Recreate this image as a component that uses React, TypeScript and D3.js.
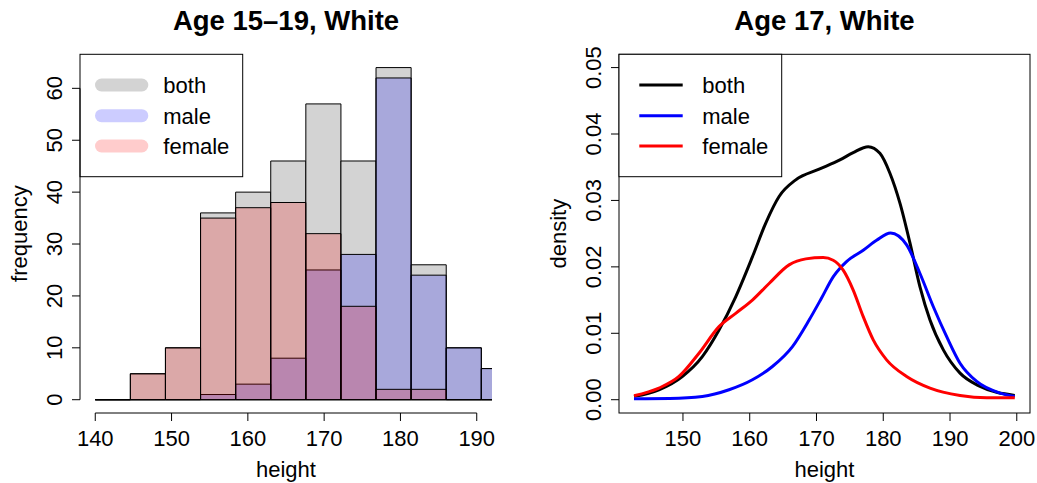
import React from "react";
import * as d3 from "d3";

// ---------- data ----------
const histBreaks = [140, 144.6, 149.2, 153.8, 158.4, 163, 167.6, 172.2, 176.8, 181.4, 186, 190.6, 195.2];
const countsBoth = [0, 5, 10, 36, 40, 46, 57, 46, 64, 26, 10, 6];
const countsMale = [0, 0, 0, 1, 3, 8, 25, 28, 62, 24, 10, 6];
const countsFemale = [0, 5, 10, 35, 37, 38, 32, 18, 2, 2, 0, 0];
const histXTicks = [140, 150, 160, 170, 180, 190];
const histYTicks = [0, 10, 20, 30, 40, 50, 60];

const densBoth: [number, number][] = [
  [142.67, 0.0005], [146.4, 0.0015], [149.9, 0.0035], [152.9, 0.0065], [155.4, 0.0105],
  [157.9, 0.0155], [160.4, 0.0215], [162.4, 0.0266], [164.4, 0.0306], [166.9, 0.0331],
  [170.4, 0.0347], [173.5, 0.0361], [175.5, 0.0372], [177.75, 0.0381], [179.5, 0.0371],
  [181.0, 0.0341], [182.5, 0.0296], [184.0, 0.0236], [185.5, 0.017], [187.0, 0.012],
  [189.0, 0.0075], [191.5, 0.004], [194.5, 0.002], [199.7, 0.00065],
];
const densMale: [number, number][] = [
  [142.67, 0.00015], [148.0, 0.0002], [152.9, 0.0005], [156.9, 0.0015], [160.4, 0.003],
  [163.4, 0.005], [166.4, 0.008], [168.9, 0.012], [170.7, 0.0152], [172.5, 0.0185],
  [174.5, 0.0208], [177.0, 0.0225], [179.0, 0.024], [181.1, 0.0251], [183.5, 0.0233],
  [185.5, 0.019], [187.5, 0.014], [189.5, 0.0095], [191.5, 0.0055], [194.0, 0.00275],
  [197.5, 0.001], [199.7, 0.0005],
];
const densFemale: [number, number][] = [
  [142.67, 0.0006], [146.4, 0.00175], [149.4, 0.0035], [152.4, 0.007], [155.4, 0.011],
  [157.9, 0.013], [160.4, 0.015], [162.9, 0.0175], [165.9, 0.0203], [168.4, 0.0212],
  [171.0, 0.0214], [172.5, 0.021], [174.0, 0.0195], [175.5, 0.0165], [177.0, 0.0125],
  [178.5, 0.009], [180.5, 0.006], [183.5, 0.0035], [187.0, 0.00175], [191.5, 0.00065],
  [195.5, 0.0003], [199.7, 0.0003],
];
const densXTicks = [150, 160, 170, 180, 190, 200];
const densYTicks = [0, 0.01, 0.02, 0.03, 0.04, 0.05];

const legendLabels = ["both", "male", "female"];
const histColors = ["#d3d3d3", "rgba(0,0,255,0.2)", "rgba(255,0,0,0.2)"];
const densColors = ["#000000", "#0000ff", "#ff0000"];

const FONT = "'Liberation Sans', Arial, Helvetica, sans-serif";
const FS = 22;

export default function App() {
  const W = 1037, H = 483;
  const top = 54.3, bottom = 413;

  // left panel
  const lx = d3.scaleLinear().domain([138, 192]).range([80, 492]);
  const ly = d3.scaleLinear().domain([-2.56, 66.56]).range([bottom, top]);

  // right panel
  const rx = d3.scaleLinear().domain([140.42, 201.98]).range([619, 1030]);
  const ry = d3.scaleLinear().domain([-0.002, 0.052]).range([bottom, top]);

  const line = d3
    .line<[number, number]>()
    .x((d) => rx(d[0]))
    .y((d) => ry(d[1]))
    .curve(d3.curveMonotoneX);

  const series = [countsBoth, countsMale, countsFemale];
  const legendY = [85, 115.7, 146];

  const barPath = (i: number, c: number) => {
    const x0 = lx(histBreaks[i]);
    const x1 = lx(histBreaks[i + 1]);
    const y0 = ly(0);
    const y1 = ly(c);
    return `M${x0},${y0}V${y1}H${x1}V${y0}Z`;
  };

  return (
    <svg
      width={W}
      height={H}
      style={{ position: "absolute", left: 0, top: 0, background: "#fff" }}
      fontFamily={FONT}
    >
      <defs>
        <clipPath id="lclip">
          <rect x={80} y={top - 2} width={412} height={bottom - top + 4} />
        </clipPath>
      </defs>
      <rect x={0} y={0} width={W} height={H} fill="#fff" />

      {/* ---------- Left: histogram ---------- */}
      <text x={286} y={29.5} textAnchor="middle" fontWeight="bold" fontSize={27.5}>
        Age 15–19, White
      </text>
      <g clipPath="url(#lclip)">
        {series.map((counts, si) => (
          <g key={si}>
            {counts.map((c, i) => (
              <path key={i} d={barPath(i, c)} fill={histColors[si]} stroke="#000" strokeWidth={1} />
            ))}
          </g>
        ))}
      </g>
      {/* x axis */}
      <line x1={lx(histXTicks[0])} x2={lx(histXTicks[histXTicks.length - 1])} y1={bottom} y2={bottom} stroke="#000" />
      {histXTicks.map((t) => (
        <g key={t}>
          <line x1={lx(t)} x2={lx(t)} y1={bottom} y2={bottom + 8} stroke="#000" />
          <text x={lx(t)} y={446} textAnchor="middle" fontSize={FS}>{t}</text>
        </g>
      ))}
      <text x={286} y={477} textAnchor="middle" fontSize={FS}>height</text>
      {/* y axis */}
      <line x1={80} x2={80} y1={ly(0)} y2={ly(60)} stroke="#000" />
      {histYTicks.map((t) => (
        <g key={t}>
          <line x1={72} x2={80} y1={ly(t)} y2={ly(t)} stroke="#000" />
          <text transform={`translate(61.7,${ly(t)}) rotate(-90)`} textAnchor="middle" fontSize={FS}>{t}</text>
        </g>
      ))}
      <text transform={`translate(27,${(top + bottom) / 2}) rotate(-90)`} textAnchor="middle" fontSize={FS}>
        frequency
      </text>
      {/* legend */}
      <rect x={80} y={top} width={162.7} height={176.7 - top} fill="none" stroke="#000" />
      {legendLabels.map((lab, i) => (
        <g key={lab}>
          <line x1={101.5} x2={141.8} y1={legendY[i]} y2={legendY[i]} stroke={histColors[i]} strokeWidth={13} strokeLinecap="round" />
          <text x={163.3} y={legendY[i] + 8} fontSize={FS}>{lab}</text>
        </g>
      ))}

      {/* ---------- Right: density ---------- */}
      <text x={824.5} y={29.5} textAnchor="middle" fontWeight="bold" fontSize={27.5}>
        Age 17, White
      </text>
      {[densBoth, densMale, densFemale].map((d, i) => (
        <path key={i} d={line(d) || ""} fill="none" stroke={densColors[i]} strokeWidth={3} strokeLinejoin="round" />
      ))}
      <rect x={619} y={top} width={1030 - 619} height={bottom - top} fill="none" stroke="#000" />
      {densXTicks.map((t) => (
        <g key={t}>
          <line x1={rx(t)} x2={rx(t)} y1={bottom} y2={bottom + 8} stroke="#000" />
          <text x={rx(t)} y={446} textAnchor="middle" fontSize={FS}>{t}</text>
        </g>
      ))}
      <text x={824.5} y={477} textAnchor="middle" fontSize={FS}>height</text>
      {densYTicks.map((t) => (
        <g key={t}>
          <line x1={611} x2={619} y1={ry(t)} y2={ry(t)} stroke="#000" />
          <text transform={`translate(600.5,${ry(t)}) rotate(-90)`} textAnchor="middle" fontSize={FS}>
            {d3.format(".2f")(t)}
          </text>
        </g>
      ))}
      <text transform={`translate(566,${(top + bottom) / 2}) rotate(-90)`} textAnchor="middle" fontSize={FS}>
        density
      </text>
      <rect x={619} y={top} width={781.7 - 619} height={176.7 - top} fill="#fff" stroke="#000" />
      {legendLabels.map((lab, i) => (
        <g key={lab}>
          <line x1={639.3} x2={682.7} y1={legendY[i]} y2={legendY[i]} stroke={densColors[i]} strokeWidth={3} />
          <text x={702.3} y={legendY[i] + 8} fontSize={FS}>{lab}</text>
        </g>
      ))}
    </svg>
  );
}
